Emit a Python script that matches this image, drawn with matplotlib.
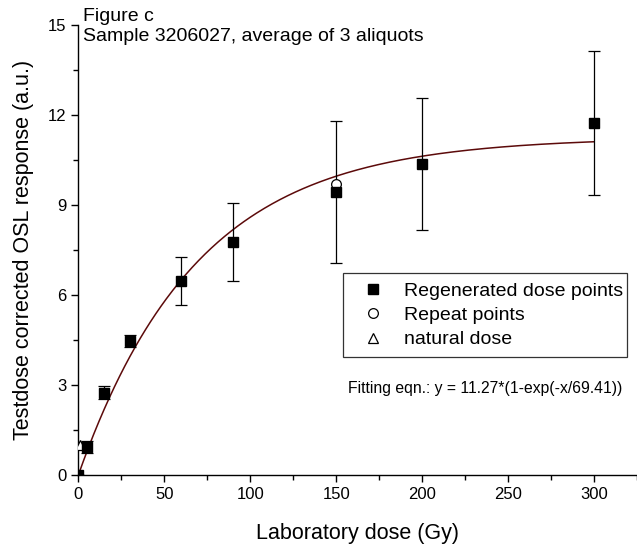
import matplotlib.pyplot as plt
import numpy as np
from matplotlib.ticker import MultipleLocator

plt.rcParams['font.family'] = ['Liberation Sans', 'DejaVu Sans']

# regenerated dose points (Gy, response, error)
regen_dose = [0, 5, 15, 30, 60, 90, 150, 200, 300]
regen_resp = [0.0, 0.95, 2.75, 4.47, 6.47, 7.79, 9.44, 10.39, 11.74]
regen_err = [0.0, 0.2, 0.22, 0.2, 0.8, 1.3, 2.38, 2.2, 2.4]

# repeat point
repeat_dose = [150]
repeat_resp = [9.71]

# natural dose
natural_dose = [1.2]
natural_resp = [1.0]

# saturating exponential fit parameters
FIT_A = 11.27
FIT_D0 = 69.41

fig = plt.figure(figsize=(6.37, 5.47), dpi=100)
ax = fig.add_axes([0.123, 0.1316, 0.877, 0.8218])

xfit = np.linspace(0, 300, 400)
yfit = FIT_A * (1 - np.exp(-xfit / FIT_D0))
ax.plot(xfit, yfit, color="#5c0a0a", lw=1.1, zorder=2)

ax.errorbar(regen_dose, regen_resp, yerr=regen_err, fmt="none",
            ecolor="black", elinewidth=0.9, capsize=4, capthick=0.9, zorder=3)
sq, = ax.plot(regen_dose, regen_resp, "s", color="black", ms=7, zorder=4,
              label="Regenerated dose points")
ci, = ax.plot(repeat_dose, repeat_resp, "o", mfc="white", mec="black",
              mew=0.9, ms=7, zorder=3, label="Repeat points")
tr, = ax.plot(natural_dose, natural_resp, "^", mfc="white", mec="black",
              mew=0.9, ms=7, zorder=3, label="natural dose")

ax.set_xlim(0, 325)
ax.set_ylim(0, 15)
ax.xaxis.set_major_locator(MultipleLocator(50))
ax.xaxis.set_minor_locator(MultipleLocator(25))
ax.yaxis.set_major_locator(MultipleLocator(3))
ax.yaxis.set_minor_locator(MultipleLocator(1.5))
ax.tick_params(which="major", direction="out", length=5, width=1, labelsize=12)
ax.tick_params(which="minor", direction="out", length=3.5, width=1)
for side in ("top", "right"):
    ax.spines[side].set_visible(False)
for side in ("left", "bottom"):
    ax.spines[side].set_linewidth(1)

ax.set_xlabel("Laboratory dose (Gy)", fontsize=15.5, labelpad=15)
ax.set_ylabel("Testdose corrected OSL response (a.u.)", fontsize=15.5,
              labelpad=10)

ax.text(0.008, 1.038, "Figure c\nSample 3206027, average of 3 aliquots",
        transform=ax.transAxes, ha="left", va="top", fontsize=14,
        linespacing=1.2)

leg = ax.legend(handles=[sq, ci, tr], loc="upper left",
                bbox_to_anchor=(0.4746, 0.267, 0.5075, 0.182), mode="expand",
                borderaxespad=0, fontsize=14, frameon=True, fancybox=False,
                edgecolor="black", handlelength=2.1, handletextpad=0.55,
                borderpad=0.45, labelspacing=0.35)
leg.get_frame().set_linewidth(0.9)

ax.text(0.4827, 0.1935, "Fitting eqn.: y = 11.27*(1-exp(-x/69.41))",
        transform=ax.transAxes, ha="left", va="center", fontsize=11.3)

fig.savefig("out.png", dpi=100)
